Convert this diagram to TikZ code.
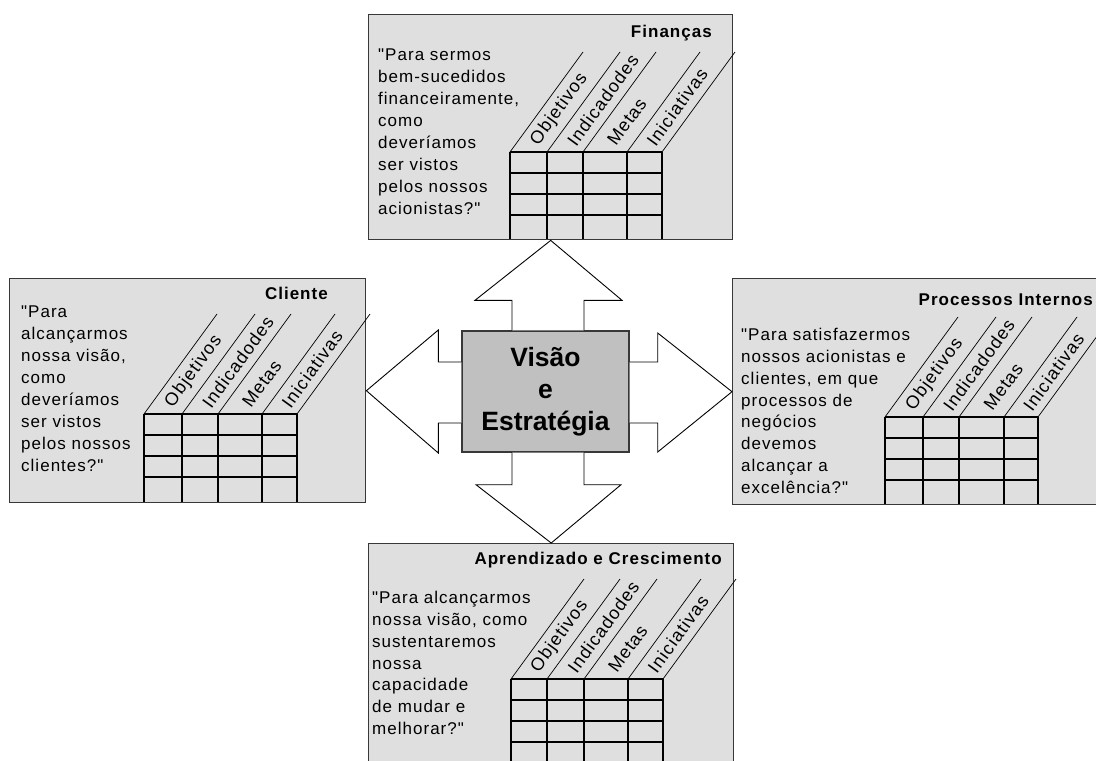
\documentclass[tikz,border=0pt]{standalone}
\usepackage{fontspec}
\setmainfont{Liberation Sans}
\newfontfamily\bscfont[LetterSpace=6]{Liberation Sans}
\usetikzlibrary{calc}
\definecolor{panelgray}{HTML}{DFDFDF}
\definecolor{coregray}{HTML}{C0C0C0}
\definecolor{edgegray}{HTML}{383838}

% Measure table of one perspective: column x positions (#1..#5),
% top and bottom y (#6, #7), name prefix (#8)
\newcommand\bscgrid[8]{%
  \foreach \k in {0,1,2,3}
    \draw[gridline] (#1,{#6+21*\k}) -- (#5,{#6+21*\k});
  \foreach \xx in {#1,#2,#3,#4,#5} {
    \draw[gridline] (\xx,#6) -- (\xx,#7);
    \draw[slantline] (\xx,#6) -- ++(73,-100);
  }
  \node[colhead] (#8-obj) at ({(#1+#2)/2+6},{#6-8.5}) {Objetivos};
  \node[colhead] (#8-ind) at ({(#2+#3)/2+6},{#6-8.5}) {Indicadodes};
  \node[colhead] (#8-met) at ({(#3+#4)/2+6},{#6-8.5}) {Metas};
  \node[colhead] (#8-ini) at ({(#4+#5)/2+6},{#6-8.5}) {Iniciativas};
}

\begin{document}
\begin{tikzpicture}[x=1pt,y=-1pt,
  panel/.style={draw=edgegray, fill=panelgray, line width=1.4pt, inner sep=0pt, anchor=north west},
  gridline/.style={draw=black, line width=1.3pt},
  slantline/.style={draw=black, line width=0.7pt},
  colhead/.style={anchor=west, rotate=54, inner sep=0pt, font=\bscfont\fontsize{18}{20}\selectfont},
  question/.style={anchor=north west, align=left, inner sep=0pt, font=\bscfont\fontsize{17}{21.9}\selectfont},
  paneltitle/.style={anchor=base east, inner sep=0pt, font=\bscfont\bfseries\fontsize{17}{19}\selectfont},
  blockarrow/.style={draw=black, fill=white, line width=0.9pt, line join=miter},
  core/.style={draw=edgegray, fill=coregray, line width=1.4pt, inner sep=0pt, align=center,
    font=\bfseries\fontsize{26.5}{32}\selectfont}]
\useasboundingbox (0,0) rectangle (1096,761);
\fill[white] (0,0) rectangle (1096,761);

% the four perspective panels
\node[panel, minimum width=364pt, minimum height=225pt] (fin) at (368,14) {};
\node[panel, minimum width=356pt, minimum height=224pt] (cli) at (9,278) {};
\node[panel, minimum width=372pt, minimum height=226pt] (proc) at (732,278) {};
\node[panel, minimum width=365pt, minimum height=225pt] (apr) at (368,543) {};

% Finanças
\node[paneltitle] (fin-title) at (712,37) {Finanças};
\node[question] (fin-q) at (378,48.8) {"Para sermos\\bem-sucedidos\\financeiramente,\\como\\deveríamos\\ser vistos\\pelos nossos\\acionistas?"};
\bscgrid{510}{547}{583}{627}{662}{152}{239}{fin}

% Cliente
\node[paneltitle] (cli-title) at (328,299) {Cliente};
\node[question] (cli-q) at (21,305.8) {"Para\\alcançarmos\\nossa visão,\\como\\deveríamos\\ser vistos\\pelos nossos\\clientes?"};
\bscgrid{144}{182}{218}{262}{297}{414}{502}{cli}

% Processos Internos
\node[paneltitle] (proc-title) at (1093,305) {Processos Internos};
\node[question] (proc-q) at (741,327.8) {"Para satisfazermos\\nossos acionistas e\\clientes, em que\\processos de\\negócios\\devemos\\alcançar a\\excelência?"};
\bscgrid{885}{923}{959}{1004}{1038}{417}{504}{proc}

% Aprendizado e Crescimento
\node[paneltitle] (apr-title) at (722,564) {Aprendizado e Crescimento};
\node[question] (apr-q) at (372,590.8) {"Para alcançarmos\\nossa visão, como\\sustentaremos\\nossa\\capacidade\\de mudar e\\melhorar?"};
\bscgrid{511}{547}{584}{628}{663}{679}{768}{apr}

% central node and the four block arrows
\node[core, minimum width=167pt, minimum height=121pt] (core) at (545.5,391.5) {Visão\\e\\Estratégia};

\draw[blockarrow] ($(core.north)+(-33.5,0)$) -- ++(0,-30) -- ++(-37,0) -- (fin.south)
  -- ($(core.north)+(76.5,-30)$) -- ++(-38,0) -- ++(0,30);
\draw[blockarrow] ($(core.south)+(-33.5,0)$) -- ++(0,32) -- ++(-36,0) -- (apr.north)
  -- ($(core.south)+(75.5,32)$) -- ++(-37,0) -- ++(0,-32);
\draw[blockarrow] ($(core.west)+(0,-29.5)$) -- ++(-23,0) -- ++(0,-32) -- (cli.east)
  -- ($(core.west)+(-23,61.5)$) -- ++(0,-30) -- ++(23,0);
\draw[blockarrow] ($(core.east)+(0,-29.5)$) -- ++(28,0) -- ++(0,-29) -- (proc.west)
  -- ($(core.east)+(28,60.5)$) -- ++(0,-29) -- ++(-28,0);
\end{tikzpicture}
\end{document}
